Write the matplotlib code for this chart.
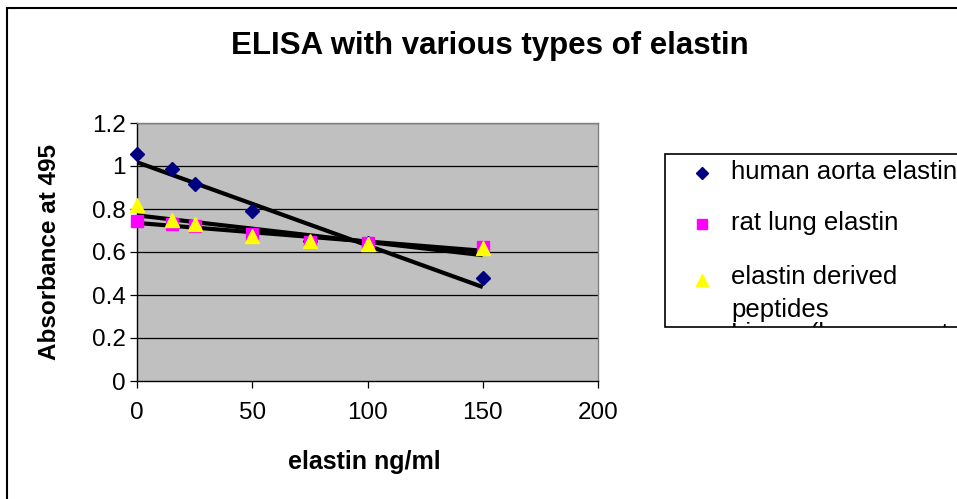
import numpy as np
import matplotlib
matplotlib.use("Agg")
import matplotlib.pyplot as plt
from matplotlib.patches import Rectangle
from matplotlib.lines import Line2D

plt.rcParams['font.family'] = ['Liberation Sans', 'DejaVu Sans']

conc = [0, 15, 25, 50, 75, 100, 150]
human_aorta = [1.056, 0.986, 0.916, 0.79, 0.65, 0.64, 0.479]
rat_lung = [0.745, 0.728, 0.72, 0.685, 0.645, 0.64, 0.625]
peptides = [0.82, 0.75, 0.73, 0.675, 0.65, 0.635, 0.62]
series_names = ["human aorta elastin", "rat lung elastin", "elastin derived\npeptides",
                "Linear (human aorta elastin)"]
xticks = [0, 50, 100, 150, 200]
yticks = [0, 0.2, 0.4, 0.6, 0.8, 1.0, 1.2]
ytick_labels = ["0", "0.2", "0.4", "0.6", "0.8", "1", "1.2"]

W, H = 957, 499
fig = plt.figure(figsize=(W / 100, H / 100), dpi=100)

def fx(px):
    return px / W

def fy(py):
    return 1 - py / H

# outer chart border (right and bottom edges lie outside the picture)
fig.patches.append(Rectangle((fx(7.5), fy(530)), fx(1000), (530 - 8) / H, transform=fig.transFigure,
                             fill=False, edgecolor='black', linewidth=1.5, clip_on=False))

ax = fig.add_axes([fx(137), fy(381), fx(598 - 137), (381 - 123) / H])
ax.set_facecolor('#C0C0C0')
ax.set_xlim(0, 200)
ax.set_ylim(0, 1.2)
for yv in yticks[1:]:
    ax.axhline(yv, color='black', linewidth=0.9, zorder=1)
for s in ax.spines.values():
    s.set_color('#808080')
    s.set_linewidth(1)
ax.spines['left'].set_color('black')
ax.spines['bottom'].set_color('black')

ax.set_xticks(xticks)
ax.set_yticks(yticks)
ax.set_yticklabels(ytick_labels)
ax.tick_params(axis='both', labelsize=17.5, direction='out', length=5, width=0.9, color='black')
ax.tick_params(axis='x', pad=10)
ax.tick_params(axis='y', pad=3)

xs = np.array(conc, dtype=float)
# linear trendlines
for ys in (human_aorta, rat_lung, peptides):
    m, b = np.polyfit(xs, ys, 1)
    xl = np.array([0, 150])
    ax.plot(xl, m * xl + b, color='black', linewidth=3, zorder=3, solid_capstyle='butt')

ax.plot(xs, human_aorta, linestyle='none', marker='D', markersize=7.5, color='#000080', zorder=4, clip_on=False)
ax.plot(xs, rat_lung, linestyle='none', marker='s', markersize=8, color='#FF00FF', zorder=5, clip_on=False)
ax.plot(xs, peptides, linestyle='none', marker='^', markersize=10, color='#FFFF00', zorder=6, clip_on=False)

ax.set_xlabel('elastin ng/ml', fontsize=18, fontweight='bold', va='center')
ax.set_ylabel('Absorbance at 495', fontsize=17.5, fontweight='bold', va='center')
ax.xaxis.set_label_coords((364 - 137) / 461, (381 - 462) / 258)
ax.yaxis.set_label_coords((50 - 137) / 461, (381 - 252) / 258)

fig.text(fx(490), fy(46), 'ELISA with various types of elastin', fontsize=22.5,
         fontweight='bold', ha='center', va='center')

# legend (clipped at right edge and bottom like the reference)
lx0, ly0, ly1 = 665, 154, 327
leg_box = Rectangle((fx(lx0), fy(ly1)), fx(400), (ly1 - ly0) / H, transform=fig.transFigure,
                    facecolor='white', edgecolor='black', linewidth=1.2)
fig.patches.append(leg_box)
clip_rect = Rectangle((fx(lx0), fy(ly1)), fx(400), (ly1 - ly0) / H, transform=fig.transFigure)

markers = [('D', '#000080', 6.5), ('s', '#FF00FF', 7), ('^', '#FFFF00', 9)]
rows = [173, 224, 280]
for (mk, col, ms), ry in zip(markers, rows):
    fig.add_artist(Line2D([fx(702)], [fy(ry)], marker=mk, color=col, markersize=ms,
                          linestyle='none', transform=fig.transFigure))
texts_y = [172, 223, 279, 334]
for name, ty in zip(series_names, texts_y):
    if '\n' in name:
        t = fig.text(fx(731), fy(ty - 14), name, fontsize=18.5, ha='left', va='top',
                     linespacing=1.5)
    else:
        t = fig.text(fx(731), fy(ty), name, fontsize=18.5, ha='left', va='center')
    t.set_clip_path(clip_rect)
    t.set_clip_on(True)

fig.savefig('out.png', dpi=100)
